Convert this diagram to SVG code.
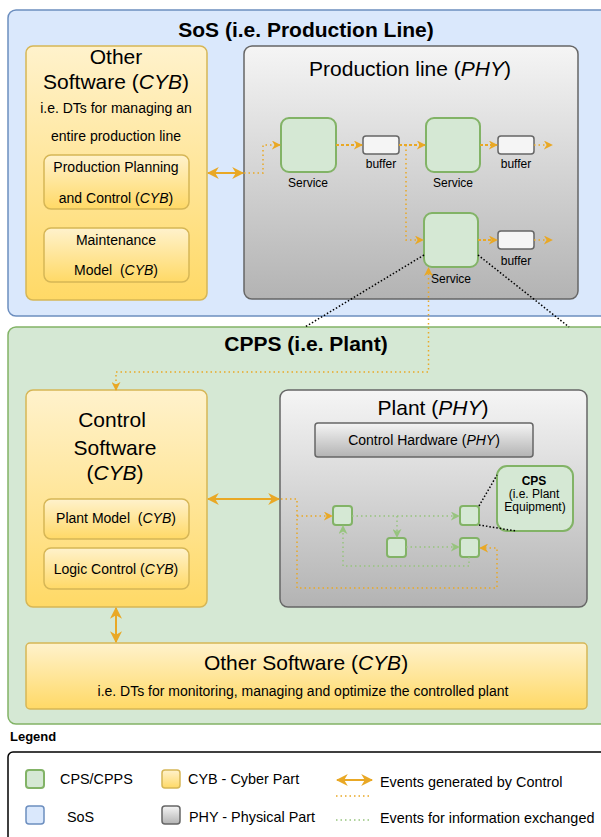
<svg xmlns="http://www.w3.org/2000/svg" width="601" height="837" viewBox="0 0 601 837">
<defs>
<linearGradient id="gY" x1="0" y1="0" x2="0" y2="1"><stop offset="0" stop-color="#fff2cc"/><stop offset="1" stop-color="#ffd966"/></linearGradient>
<linearGradient id="gG" x1="0" y1="0" x2="0" y2="1"><stop offset="0" stop-color="#f5f5f5"/><stop offset="1" stop-color="#b3b3b3"/></linearGradient>
<marker id="aO" viewBox="0 0 10 10" refX="9" refY="5" markerWidth="12" markerHeight="12" markerUnits="userSpaceOnUse" orient="auto-start-reverse"><path d="M0,0 L10,5 L0,10 L3,5 z" fill="#E9A825"/></marker>
<marker id="aOs" viewBox="0 0 10 10" refX="9" refY="5" markerWidth="9" markerHeight="9" markerUnits="userSpaceOnUse" orient="auto-start-reverse"><path d="M0,0 L10,5 L0,10 L3,5 z" fill="#E9A825"/></marker>
<marker id="aGs" viewBox="0 0 10 10" refX="9" refY="5" markerWidth="9" markerHeight="9" markerUnits="userSpaceOnUse" orient="auto-start-reverse"><path d="M0,0 L10,5 L0,10 L3,5 z" fill="#97c47e"/></marker>
</defs>
<style>
text{font-family:"Liberation Sans",Arial,sans-serif;fill:#000}
.t20b{font-size:21px;font-weight:bold}
.t21{font-size:21px}
.t14{font-size:14px}
.t12{font-size:12px}
.lg{font-size:14.4px}
.sos{fill:#dae8fc;stroke:#6c8ebf;stroke-width:1.5}
.cpps{fill:#d5e8d4;stroke:#82b366;stroke-width:1.5}
.cyb{fill:url(#gY);stroke:#d6b656;stroke-width:1.5}
.phy{fill:url(#gG);stroke:#666666;stroke-width:1.5}
.svc{fill:#d5e8d4;stroke:#82b366;stroke-width:2}
.buf{fill:#f5f5f5;stroke:#666666;stroke-width:1.5}
.sq{fill:#d5e8d4;stroke:#82b366;stroke-width:2}
.solidO{fill:none;stroke:#E9A825;stroke-width:2}
.dotO{fill:none;stroke:#E9A825;stroke-width:1.5;stroke-dasharray:1.5 3}
.dashO{fill:none;stroke:#E9A825;stroke-width:2;stroke-dasharray:3 2}
.dotG{fill:none;stroke:#97c47e;stroke-width:1.5;stroke-dasharray:1.5 3}
.dotK{fill:none;stroke:#000;stroke-width:1.5;stroke-dasharray:1.5 2}
</style>

<g id="sos">
<rect class="sos" x="8" y="10" width="600" height="306" rx="8"/>
<text class="t20b" x="306" y="37" text-anchor="middle">SoS (i.e. Production Line)</text>
</g>

<g id="other-software-top">
<rect class="cyb" x="26" y="46" width="181" height="254" rx="7"/>
<text class="t21" x="116" y="64" text-anchor="middle">Other</text>
<text class="t21" x="116" y="89" text-anchor="middle">Software (<tspan font-style="italic">CYB</tspan>)</text>
<text class="t14" x="116" y="113" text-anchor="middle">i.e. DTs for managing an</text>
<text class="t14" x="116" y="141" text-anchor="middle">entire production line</text>
</g>
<g id="production-planning">
<rect class="cyb" x="44" y="155" width="145" height="54" rx="7"/>
<text class="t14" x="116" y="172" text-anchor="middle">Production Planning</text>
<text class="t14" x="116" y="203" text-anchor="middle">and Control (<tspan font-style="italic">CYB</tspan>)</text>
</g>
<g id="maintenance-model">
<rect class="cyb" x="44" y="228" width="145" height="54" rx="7"/>
<text class="t14" x="116" y="245" text-anchor="middle">Maintenance</text>
<text class="t14" x="116" y="275" text-anchor="middle">Model&#160; (<tspan font-style="italic">CYB</tspan>)</text>
</g>

<g id="production-line">
<rect class="phy" x="244" y="46" width="334" height="253" rx="8"/>
<text class="t21" x="410" y="76" text-anchor="middle">Production line (<tspan font-style="italic">PHY</tspan>)</text>
</g>
<g id="service1">
<rect class="svc" x="281" y="118" width="55" height="54" rx="8"/>
<text class="t12" x="308" y="187" text-anchor="middle">Service</text>
</g>
<g id="buffer1">
<rect class="buf" x="363" y="136" width="36" height="18" rx="3"/>
<text class="t12" x="381" y="168" text-anchor="middle">buffer</text>
</g>
<g id="service2">
<rect class="svc" x="426" y="118" width="54" height="54" rx="8"/>
<text class="t12" x="453" y="187" text-anchor="middle">Service</text>
</g>
<g id="buffer2">
<rect class="buf" x="498" y="136" width="36" height="18" rx="3"/>
<text class="t12" x="516" y="168" text-anchor="middle">buffer</text>
</g>
<g id="service3">
<rect class="svc" x="424" y="213" width="54" height="54" rx="8"/>
<text class="t12" x="451" y="283" text-anchor="middle">Service</text>
</g>
<g id="buffer3">
<rect class="buf" x="498" y="231" width="36" height="18" rx="3"/>
<text class="t12" x="516" y="265" text-anchor="middle">buffer</text>
</g>

<g id="cpps">
<rect class="cpps" x="8" y="327" width="600" height="397" rx="8"/>
<text class="t20b" x="306" y="351" text-anchor="middle">CPPS (i.e. Plant)</text>
</g>
<g id="control-software">
<rect class="cyb" x="26" y="390" width="181" height="217" rx="7"/>
<text class="t21" x="112" y="427" text-anchor="middle">Control</text>
<text class="t21" x="115" y="455" text-anchor="middle">Software</text>
<text class="t21" x="115" y="480" text-anchor="middle">(<tspan font-style="italic">CYB</tspan>)</text>
</g>
<g id="plant-model">
<rect class="cyb" x="44" y="499" width="145" height="40" rx="7"/>
<text class="t14" x="116" y="523" text-anchor="middle">Plant Model&#160; (<tspan font-style="italic">CYB</tspan>)</text>
</g>
<g id="logic-control">
<rect class="cyb" x="44" y="548" width="145" height="41" rx="7"/>
<text class="t14" x="116" y="574" text-anchor="middle">Logic Control (<tspan font-style="italic">CYB</tspan>)</text>
</g>
<g id="plant">
<rect class="phy" x="280" y="390" width="307" height="217" rx="8"/>
<text class="t21" x="433" y="415" text-anchor="middle">Plant (<tspan font-style="italic">PHY</tspan>)</text>
</g>
<g id="control-hardware">
<rect class="phy" x="315" y="423" width="218" height="34" rx="3"/>
<text class="t14" x="424" y="445" text-anchor="middle">Control Hardware (<tspan font-style="italic">PHY</tspan>)</text>
</g>
<g id="eqA"><rect class="sq" x="333" y="506" width="19" height="19" rx="3"/></g>
<g id="eqB"><rect class="sq" x="460" y="506" width="19" height="19" rx="3"/></g>
<g id="eqC"><rect class="sq" x="387" y="538" width="19" height="19" rx="3"/></g>
<g id="eqD"><rect class="sq" x="460" y="538" width="19" height="19" rx="3"/></g>
<g id="cps">
<rect class="svc" x="497" y="466" width="76" height="65" rx="10"/>
<text x="534" y="485" text-anchor="middle" font-size="12" font-weight="bold">CPS</text>
<text x="534" y="498" text-anchor="middle" font-size="12">(i.e. Plant</text>
<text x="535" y="511" text-anchor="middle" font-size="12">Equipment)</text>
</g>
<g id="other-software-bottom">
<rect class="cyb" x="26" y="643" width="561" height="66" rx="4"/>
<text class="t21" x="306" y="670" text-anchor="middle">Other Software (<tspan font-style="italic">CYB</tspan>)</text>
<text class="t14" x="303" y="696" text-anchor="middle" font-size="14.3">i.e. DTs for monitoring, managing and optimize the controlled plant</text>
</g>

<g id="connectors">
<path class="solidO" d="M208,173 H243" marker-start="url(#aO)" marker-end="url(#aO)"/>
<path class="dotO" d="M244,173 H263 V145 H280" marker-end="url(#aOs)"/>
<path class="dashO" d="M336,145 H362" marker-end="url(#aOs)"/>
<path class="dashO" d="M399,145 H425" marker-end="url(#aOs)"/>
<path class="dotO" d="M406,145 V240 H423" marker-end="url(#aOs)"/>
<path class="dashO" d="M480,145 H497" marker-end="url(#aOs)"/>
<path class="dotO" d="M534,145 H552" marker-end="url(#aOs)"/>
<path class="dashO" d="M478,240 H497" marker-end="url(#aOs)"/>
<path class="dotO" d="M534,240 H552" marker-end="url(#aOs)"/>
<path class="dotO" d="M116,390 V372 H428.5 V268" marker-start="url(#aOs)" marker-end="url(#aOs)"/>
<path class="dotK" d="M424,255 L305,327"/>
<path class="dotK" d="M478,255 L569,327"/>
<path class="solidO" d="M208,499 H279" marker-start="url(#aO)" marker-end="url(#aO)"/>
<path class="dotO" d="M281,499 H297 V588 H497 V548 H480" marker-end="url(#aOs)"/>
<path class="dotO" d="M297,516 H332" marker-end="url(#aOs)"/>
<path class="dotG" d="M352,516 H459" marker-end="url(#aGs)"/>
<path class="dotG" d="M397,516 V537" marker-end="url(#aGs)"/>
<path class="dotG" d="M406,547 H459" marker-end="url(#aGs)"/>
<path class="dotG" d="M469,557 V566 H343 V526" marker-end="url(#aGs)"/>
<path class="dotK" d="M479,506 L497,475"/>
<path class="dotK" d="M479,525 L516,531"/>
<path class="solidO" d="M116,608 V642" marker-start="url(#aO)" marker-end="url(#aO)"/>
</g>

<g id="legend">
<text x="10" y="741" font-size="13" font-weight="bold">Legend</text>
<rect x="8" y="752" width="600" height="100" rx="5" fill="#ffffff" stroke="#000" stroke-width="1.5"/>
<rect class="sq" x="26" y="770" width="18" height="18" rx="3" stroke-width="1.5"/>
<text class="lg" x="60" y="784">CPS/CPPS</text>
<rect class="sos" x="26" y="806" width="18" height="18" rx="3"/>
<text class="lg" x="67" y="822">SoS</text>
<rect class="cyb" x="162" y="770" width="18" height="18" rx="3"/>
<text class="lg" x="188" y="784">CYB - Cyber Part</text>
<rect class="phy" x="162" y="806" width="18" height="18" rx="3"/>
<text class="lg" x="189" y="822">PHY - Physical Part</text>
<path class="solidO" d="M337,780 H372" marker-start="url(#aO)" marker-end="url(#aO)"/>
<text class="lg" x="380" y="787">Events generated by Control</text>
<path class="dotO" d="M336,796 H372" stroke-width="1"/>
<path class="dotG" d="M336,820 H372" stroke-width="1"/>
<text class="lg" x="380" y="823">Events for information exchanged</text>
</g>
</svg>
